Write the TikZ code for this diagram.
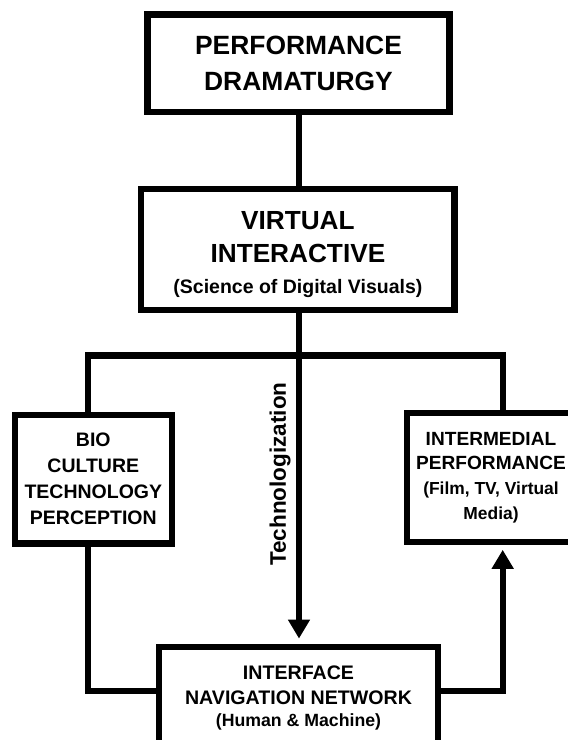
\documentclass[tikz,border=0pt]{standalone}
\usepackage{fontspec}
\setmainfont{Liberation Sans}
\usetikzlibrary{arrows.meta}
\tikzset{
  box/.style={draw=black, line width=6.3pt, fill=white, align=center, inner sep=0pt, font=\bfseries},
  conn/.style={draw=black, line width=6.3pt},
  arr/.style={conn, -{Triangle[width=21pt,length=19pt]}},
}
\begin{document}
\begin{tikzpicture}[x=1pt,y=-1pt]
\useasboundingbox (0,0) rectangle (568,740);
\fill[white] (0,0) rectangle (568,740);
\clip (0,0) rectangle (568,740);
\coordinate (bl) at (88,355.5);
\coordinate (jc) at (299,355.5);
\coordinate (br) at (502.7,355.5);
\coordinate (ll) at (88,691);
\coordinate (rr) at (502.7,691);

\node[box, minimum width=302pt, minimum height=97.5pt, font=\bfseries\fontsize{26.4}{36}\selectfont]
  (top) at (298.5,63.25) {PERFORMANCE\\DRAMATURGY};
\node[box, minimum width=313.2pt, minimum height=121pt, font=\bfseries\fontsize{26.2}{33.4}\selectfont]
  (mid) at (297.9,249.2) {\rule{0pt}{28pt}VIRTUAL\\INTERACTIVE\\[-2.8pt]{\fontsize{19.5}{22}\selectfont (Science of Digital Visuals)}};
\node[box, minimum width=156.7pt, minimum height=128.5pt, font=\bfseries\fontsize{19.5}{26}\selectfont]
  (left) at (93.3,479.2) {BIO\\CULTURE\\TECHNOLOGY\\PERCEPTION};
\node[box, minimum width=168pt, minimum height=129pt, font=\bfseries\fontsize{19.1}{24.7}\selectfont]
  (right) at (491,477.5) {INTERMEDIAL\\PERFORMANCE\\{\fontsize{17.4}{22}\selectfont (Film, TV, Virtual}\\{\fontsize{17.4}{22}\selectfont Media)}};
\node[box, minimum width=279.6pt, minimum height=102.6pt, font=\bfseries\fontsize{19.6}{25}\selectfont]
  (bot) at (298.5,698) {INTERFACE\\NAVIGATION NETWORK\\[-2.3pt]{\fontsize{17.7}{22}\selectfont (Human \& Machine)}};

\draw[conn] (top.south -| jc) -- (mid.north -| jc);
\draw[conn] (mid.south -| jc) -- (jc);
\draw[conn] (bl |- left.north) -- (bl) -- (br) -- (br |- right.north);
\draw[arr] (jc) -- ([yshift=5pt]jc |- bot.north);
\draw[conn] (bl |- left.south) -- (ll) -- (ll -| bot.west);
\draw[arr] (rr -| bot.east) -- (rr) -- ([yshift=-4.7pt]rr |- right.south);

\node[rotate=90, inner sep=0pt, font=\bfseries\fontsize{22.5}{26}\selectfont]
  (tech) at (280,474) {Technologization};
\end{tikzpicture}
\end{document}
